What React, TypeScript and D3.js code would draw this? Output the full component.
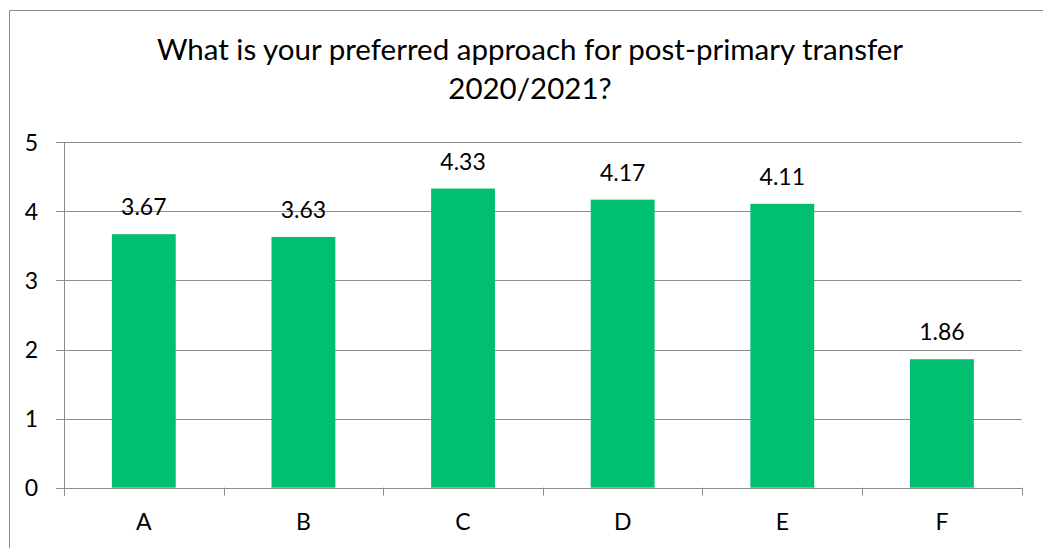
import React from "react";
import * as d3 from "d3";

const categories = ["A", "B", "C", "D", "E", "F"];
const values = [3.67, 3.63, 4.33, 4.17, 4.11, 1.86];
const yTicks = [0, 1, 2, 3, 4, 5];
const titleLines = ["What is your preferred approach for post-primary transfer", "2020/2021?"];

const W = 1043;
const H = 548;
const FONT = "Lato, 'Open Sans', sans-serif";
const GRID = "#8c8c8c";
const BAR = "#00BF6F";

export default function App() {
  const left = 64, right = 1021.7, top = 142.3, bottom = 487.7;
  const x = d3.scaleBand<string>().domain(categories).range([left, right]).paddingInner(0.6).paddingOuter(0.3);
  const y = d3.scaleLinear().domain([0, 5]).range([bottom, top]);
  const step = (right - left) / categories.length;
  const boundaries = d3.range(categories.length + 1).map((i) => left + i * step);

  return (
    <svg width={W} height={H} style={{ position: "absolute", left: 0, top: 0, background: "#fff" }}>
      <rect x={0} y={0} width={W} height={H} fill="#fff" />
      {/* outer border */}
      <line x1={9.5} x2={9.5} y1={10.5} y2={H + 5} stroke={GRID} strokeWidth={1} />
      <line x1={9.5} x2={W + 5} y1={10.5} y2={10.5} stroke={GRID} strokeWidth={1} />

      {titleLines.map((t, i) => (
        <text key={i} x={530} y={60 + i * 39} textAnchor="middle" fontFamily={FONT} fontSize={29.5} fill="#000">
          {t}
        </text>
      ))}

      {/* gridlines */}
      {yTicks.map((t) => (
        <g key={t}>
          <line x1={56} x2={right} y1={Math.round(y(t)) + 0.5} y2={Math.round(y(t)) + 0.5} stroke={GRID} strokeWidth={1} />
          <text x={38} y={y(t)} dy="0.36em" textAnchor="end" fontFamily={FONT} fontSize={23} fill="#000">
            {t}
          </text>
        </g>
      ))}
      {/* y axis */}
      <line x1={left + 0.5} x2={left + 0.5} y1={top} y2={bottom + 8} stroke={GRID} strokeWidth={1} />
      {/* x ticks */}
      {boundaries.map((b, i) => (
        <line key={i} x1={Math.round(b) + 0.5} x2={Math.round(b) + 0.5} y1={bottom} y2={bottom + 8} stroke={GRID} strokeWidth={1} />
      ))}

      {/* bars */}
      {categories.map((c, i) => (
        <g key={c}>
          <rect x={x(c)} y={y(values[i])} width={x.bandwidth()} height={bottom - y(values[i])} fill={BAR} />
          <text x={(x(c) as number) + x.bandwidth() / 2} y={y(values[i]) - 19} textAnchor="middle" fontFamily={FONT} fontSize={23} fill="#000">
            {values[i].toFixed(2)}
          </text>
          <text x={(x(c) as number) + x.bandwidth() / 2} y={530} textAnchor="middle" fontFamily={FONT} fontSize={23} fill="#000">
            {c}
          </text>
        </g>
      ))}
      <line x1={left} x2={right} y1={Math.round(bottom) + 0.5} y2={Math.round(bottom) + 0.5} stroke={GRID} strokeWidth={1} />
    </svg>
  );
}
